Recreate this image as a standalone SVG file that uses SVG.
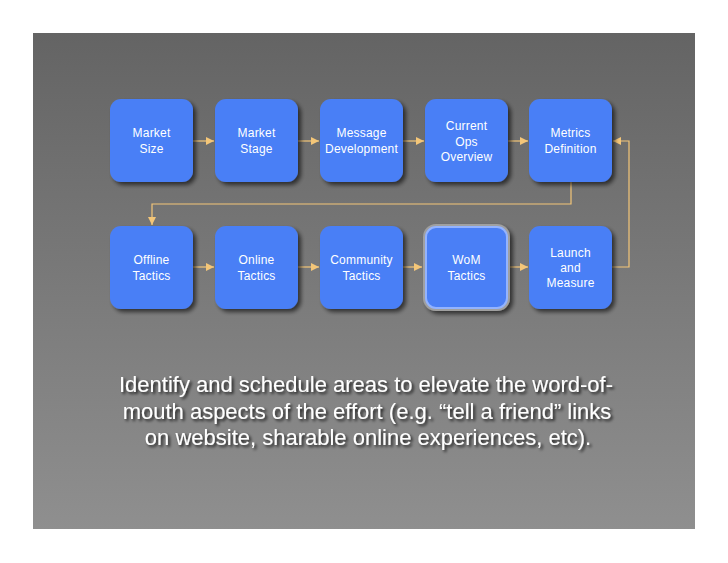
<svg xmlns="http://www.w3.org/2000/svg" width="728" height="563" viewBox="0 0 728 563">
<defs>
<linearGradient id="bg" x1="0" y1="0" x2="0" y2="1">
<stop offset="0" stop-color="#646464"/>
<stop offset="1" stop-color="#8f8f8f"/>
</linearGradient>
<filter id="sh" x="-20%" y="-20%" width="150%" height="150%">
<feGaussianBlur in="SourceAlpha" stdDeviation="2"/>
<feOffset dx="3" dy="3" result="b"/>
<feComponentTransfer><feFuncA type="linear" slope="0.6"/></feComponentTransfer>
<feMerge><feMergeNode/><feMergeNode in="SourceGraphic"/></feMerge>
</filter>
<filter id="tsh" x="-5%" y="-20%" width="110%" height="150%">
<feGaussianBlur in="SourceAlpha" stdDeviation="1.5"/>
<feOffset dx="1.5" dy="2" result="b"/>
<feComponentTransfer><feFuncA type="linear" slope="0.8"/></feComponentTransfer>
<feMerge><feMergeNode/><feMergeNode in="SourceGraphic"/></feMerge>
</filter>
<marker id="ah" viewBox="0 0 10 10" refX="10" refY="5" markerWidth="8" markerHeight="8" markerUnits="userSpaceOnUse" orient="auto">
<path d="M0,0 L10,5 L0,10 z" fill="#f4c678"/>
</marker>
</defs>
<style>
.box{fill:#4a7ff6;filter:url(#sh)}
.lbl{font-family:"Liberation Sans",Arial,sans-serif;font-size:12px;letter-spacing:0.2px;fill:#ffffff;text-anchor:middle}
.con{fill:none;stroke:#f4c678;stroke-width:1.2}
.big{font-family:"Liberation Sans",Arial,sans-serif;font-size:22px;fill:#ffffff;text-anchor:middle;filter:url(#tsh)}
</style>
<rect x="0" y="0" width="728" height="563" fill="#ffffff"/>
<rect x="33" y="33" width="662" height="496" fill="url(#bg)"/>

<g id="connectors">
<line class="con" x1="193" y1="141" x2="214" y2="141" marker-end="url(#ah)"/>
<line class="con" x1="298" y1="141" x2="319" y2="141" marker-end="url(#ah)"/>
<line class="con" x1="403" y1="141" x2="424" y2="141" marker-end="url(#ah)"/>
<line class="con" x1="508" y1="141" x2="528" y2="141" marker-end="url(#ah)"/>
<polyline class="con" points="571,182 571,204 152,204 152,225" marker-end="url(#ah)"/>
<line class="con" x1="193" y1="267" x2="214" y2="267" marker-end="url(#ah)"/>
<line class="con" x1="298" y1="267" x2="319" y2="267" marker-end="url(#ah)"/>
<line class="con" x1="403" y1="267" x2="422" y2="267" marker-end="url(#ah)"/>
<line class="con" x1="510" y1="267" x2="528" y2="267" marker-end="url(#ah)"/>
<polyline class="con" points="612,267 629,267 629,141 613,141" marker-end="url(#ah)"/>
</g>

<g id="market-size"><rect class="box" x="110" y="99" width="83" height="83" rx="11"/>
<text class="lbl" x="151.5" y="137">Market</text><text class="lbl" x="151.5" y="153">Size</text></g>
<g id="market-stage"><rect class="box" x="215" y="99" width="83" height="83" rx="11"/>
<text class="lbl" x="256.5" y="137">Market</text><text class="lbl" x="256.5" y="153">Stage</text></g>
<g id="message-development"><rect class="box" x="320" y="99" width="83" height="83" rx="11"/>
<text class="lbl" x="361.5" y="137">Message</text><text class="lbl" x="361.5" y="153">Development</text></g>
<g id="current-ops"><rect class="box" x="425" y="99" width="83" height="83" rx="11"/>
<text class="lbl" x="466.5" y="130">Current</text><text class="lbl" x="466.5" y="145.5">Ops</text><text class="lbl" x="466.5" y="161">Overview</text></g>
<g id="metrics-definition"><rect class="box" x="529" y="99" width="83" height="83" rx="11"/>
<text class="lbl" x="570.5" y="137">Metrics</text><text class="lbl" x="570.5" y="153">Definition</text></g>

<g id="offline-tactics"><rect class="box" x="110" y="226" width="83" height="83" rx="11"/>
<text class="lbl" x="151.5" y="264">Offline</text><text class="lbl" x="151.5" y="280">Tactics</text></g>
<g id="online-tactics"><rect class="box" x="215" y="226" width="83" height="83" rx="11"/>
<text class="lbl" x="256.5" y="264">Online</text><text class="lbl" x="256.5" y="280">Tactics</text></g>
<g id="community-tactics"><rect class="box" x="320" y="226" width="83" height="83" rx="11"/>
<text class="lbl" x="361.5" y="264">Community</text><text class="lbl" x="361.5" y="280">Tactics</text></g>
<g id="wom-tactics"><rect x="423" y="224" width="87" height="87" rx="13" fill="#a0a0a0" style="filter:url(#sh)"/>
<rect x="426" y="227" width="81" height="81" rx="10" fill="#4a7ff6" stroke="#93b3ff" stroke-width="2"/>
<text class="lbl" x="466.5" y="264">WoM</text><text class="lbl" x="466.5" y="280">Tactics</text></g>
<g id="launch-and-measure"><rect class="box" x="529" y="226" width="83" height="83" rx="11"/>
<text class="lbl" x="570.5" y="257">Launch</text><text class="lbl" x="570.5" y="272">and</text><text class="lbl" x="570.5" y="287">Measure</text></g>

<g id="caption">
<text class="big" x="366" y="392">Identify and schedule areas to elevate the word-of-</text>
<text class="big" x="367" y="419">mouth aspects of the effort (e.g. “tell a friend” links</text>
<text class="big" x="368" y="445">on website, sharable online experiences, etc).</text>
</g>
</svg>
